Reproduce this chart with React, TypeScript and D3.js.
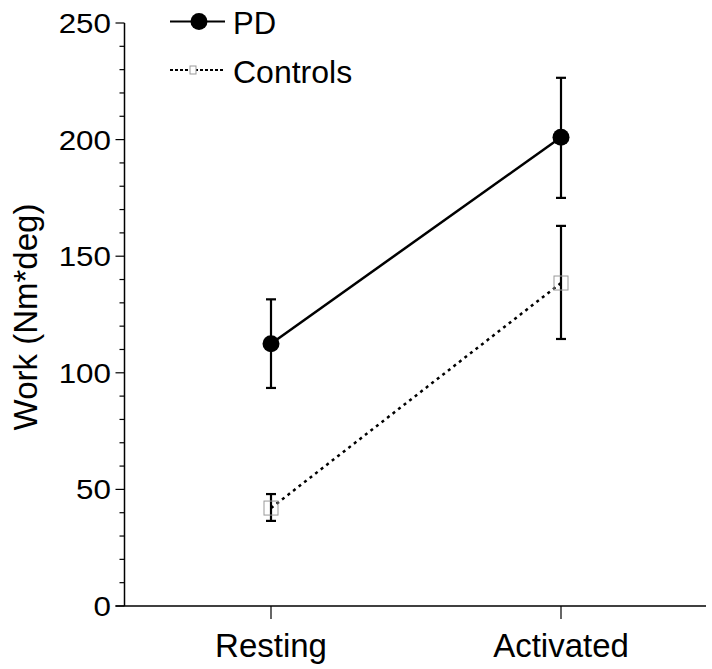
import React from "react";
import * as d3 from "d3";

const categories = ["Resting", "Activated"];
const pdMean = [112.5, 201];
const pdUpper = [131.5, 226.5];
const pdLower = [93.5, 175];
const ctrlMean = [42, 138.5];
const ctrlUpper = [48, 163];
const ctrlLower = [36.5, 114.5];
const yTicks = [0, 50, 100, 150, 200, 250];
const yMinorTicks = d3.range(0, 251, 10);

const W = 712;
const H = 669;
const FONT = "'Liberation Sans', Arial, Helvetica, sans-serif";

export default function App() {
  const axisX = 124.5;
  const x = d3.scalePoint<string>().domain(categories).range([271, 561]);
  const y = d3.scaleLinear().domain([0, 250]).range([606, 23]);
  const line = d3
    .line<number>()
    .x((_, i) => x(categories[i]) as number)
    .y((d) => y(d));

  const errorBar = (cx: number, lo: number, hi: number, key: string) => (
    <g key={key} stroke="#000" strokeWidth={2.2}>
      <line x1={cx} x2={cx} y1={y(lo)} y2={y(hi)} />
      <line x1={cx - 5} x2={cx + 5} y1={y(lo)} y2={y(lo)} />
      <line x1={cx - 5} x2={cx + 5} y1={y(hi)} y2={y(hi)} />
    </g>
  );

  return (
    <svg width={W} height={H} style={{ position: "absolute", left: 0, top: 0, background: "#fff" }} fontFamily={FONT}>
      <rect width={W} height={H} fill="#fff" />
      {/* y axis */}
      <line x1={axisX} x2={axisX} y1={y(250)} y2={y(0)} stroke="#000" strokeWidth={1.5} />
      {yMinorTicks.map((t) => (
        <line key={"m" + t} x1={axisX - (t % 50 === 0 ? 9 : 5)} x2={axisX} y1={y(t)} y2={y(t)} stroke="#000" strokeWidth={1.2} />
      ))}
      {yTicks.map((t) => (
        <text
          key={"t" + t}
          transform={`translate(111,${y(t)}) scale(1.12,1)`}
          dy="0.36em"
          textAnchor="end"
          fontSize={28}
          fill="#000"
        >
          {t}
        </text>
      ))}
      {/* x axis */}
      <line x1={axisX - 9} x2={706} y1={y(0)} y2={y(0)} stroke="#000" strokeWidth={1.5} />
      {categories.map((c) => (
        <g key={c}>
          <line x1={x(c)} x2={x(c)} y1={y(0)} y2={y(0) + 13} stroke="#000" strokeWidth={1.2} />
          <text x={x(c)} y={657} textAnchor="middle" fontSize={33} fill="#000">
            {c}
          </text>
        </g>
      ))}
      <text transform={`translate(36.5,317) rotate(-90)`} textAnchor="middle" fontSize={33} fill="#000">
        Work (Nm*deg)
      </text>

      {/* Controls */}
      <path d={line(ctrlMean) || ""} fill="none" stroke="#000" strokeWidth={2.5} strokeDasharray="3,4" />
      {categories.map((c, i) => errorBar(x(c) as number, ctrlLower[i], ctrlUpper[i], "ce" + i))}
      {categories.map((c, i) => (
        <rect key={"cs" + i} x={(x(c) as number) - 7} y={y(ctrlMean[i]) - 7} width={14} height={14} fill="none" stroke="#999" strokeWidth={1} />
      ))}

      {/* PD */}
      <path d={line(pdMean) || ""} fill="none" stroke="#000" strokeWidth={2.5} />
      {categories.map((c, i) => errorBar(x(c) as number, pdLower[i], pdUpper[i], "pe" + i))}
      {categories.map((c, i) => (
        <circle key={"pc" + i} cx={x(c)} cy={y(pdMean[i])} r={8.5} fill="#000" />
      ))}

      {/* legend */}
      <line x1={170} x2={225} y1={21.5} y2={21.5} stroke="#000" strokeWidth={2.2} />
      <circle cx={199} cy={21.5} r={8.5} fill="#000" />
      <text x={233} y={34} fontSize={31} fill="#000">PD</text>
      <line x1={170} x2={225} y1={70} y2={70} stroke="#000" strokeWidth={1.8} strokeDasharray="3,2" />
      <rect x={190} y={66} width={6} height={8} fill="#fff" stroke="#999" strokeWidth={1} />
      <text x={233} y={83} fontSize={32} fill="#000">Controls</text>
    </svg>
  );
}
